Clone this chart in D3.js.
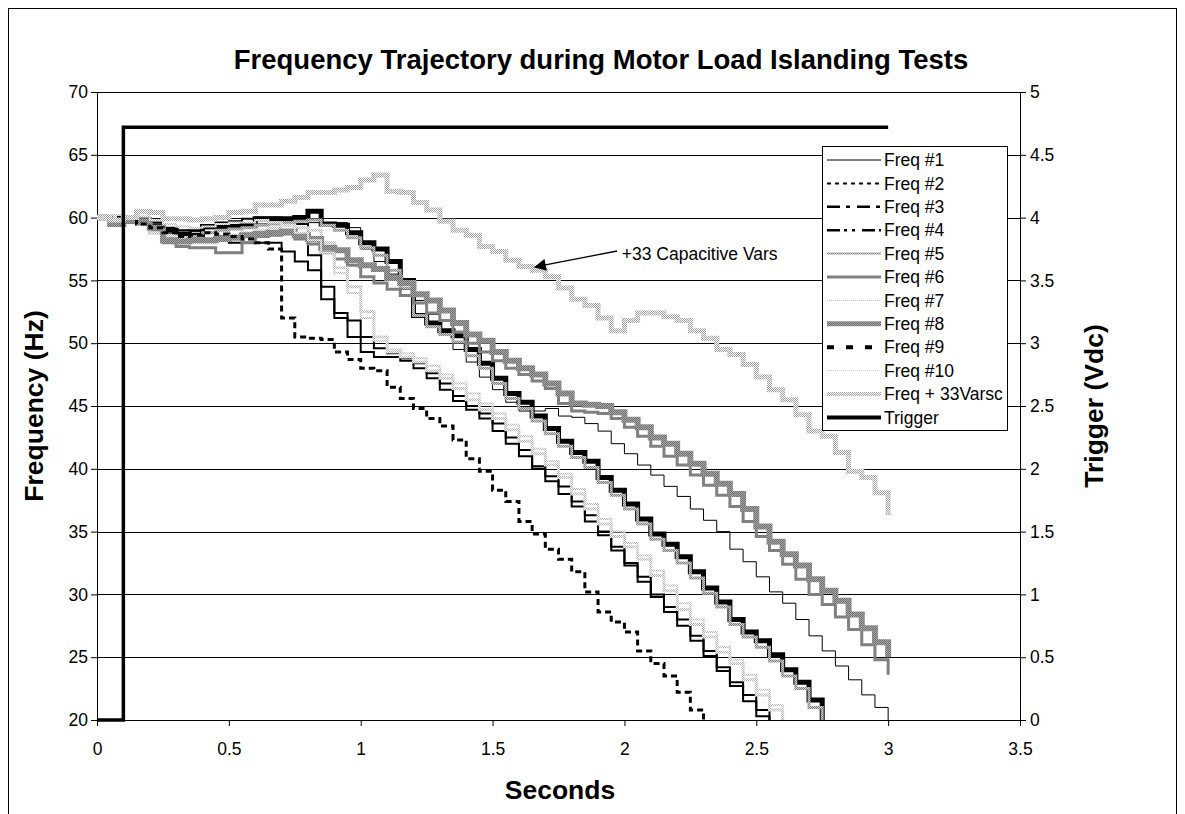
<!DOCTYPE html>
<html>
<head>
<meta charset="utf-8">
<script src="https://cdn.jsdelivr.net/npm/d3@7/dist/d3.min.js"></script>
<style>
html,body{margin:0;padding:0;background:#fff;}
svg{display:block;}
text{font-family:"Liberation Sans",Arial,Helvetica,sans-serif;fill:#000;}
</style>
</head>
<body>
<svg id="chart" width="1185" height="814"></svg>
<script>
// ---------------- DATA ----------------
const times = [0,0.05,0.1,0.15,0.2,0.25,0.3,0.35,0.4,0.45,0.5,0.55,0.6,0.65,0.7,0.75,0.8,0.85,0.9,0.95,
  1,1.05,1.1,1.15,1.2,1.25,1.3,1.35,1.4,1.45,1.5,1.55,1.6,1.65,1.7,1.75,1.8,1.85,1.9,1.95,
  2,2.05,2.1,2.15,2.2,2.25,2.3,2.35,2.4,2.45,2.5,2.55,2.6,2.65,2.7,2.75,2.8,2.85,2.9,2.95,3];

const freq1 = [60,60,60,59.8,59.5,59.2,58.8,58.9,59.1,59.0,59.2,59.4,59.5,59.6,59.6,59.7,59.6,59.6,59.6,59.2,57.5,
  56.5,55.5,54.3,53.4,52.3,50.8,49.5,48.5,47.3,46.3,45.3,44.6,44.6,44.8,44.2,44.1,43.6,43.0,42.0,41.2,
  40.3,39.5,38.6,37.8,36.8,35.9,35.0,33.6,32.6,31.4,30.2,29.3,28.0,26.7,25.5,24.3,23.2,22.0,21.0,20.0];
const freq2 = [60,60,59.9,59.6,59.6,59.2,59.0,59.0,59.2,59.6,59.7,59.9,60.0,60.0,59.8,59.5,57.0,54.5,52.0,50.5,49.3,
  48.9,48.9,48.6,48.0,47.2,46.3,45.4,44.7,44.0,43.0,42.0,41.0,40.0,39.0,38.0,37.0,35.8,34.7,33.5,32.3,
  31.0,29.8,28.6,27.5,26.3,25.1,23.9,22.7,21.5,20.3,20.0];
const freq3 = [60,60,60,59.8,59.3,59.0,58.7,58.6,59.3,59.3,59.3,59.4,59.9,59.9,59.9,60.0,60.5,59.5,59.4,58.8,58.0,
  57.5,56.5,55.0,52.2,51.6,51.0,50.6,49.5,48.4,47.2,46.0,45.3,44.2,43.2,42.2,41.3,40.6,39.3,38.3,37.2,
  36.0,34.8,34.0,33.0,31.8,30.5,29.4,28.0,27.0,26.3,25.2,24.0,23.0,21.6,20.0];
const freq4 = [60,60,60,59.7,59.0,58.7,58.3,58.4,58.8,58.5,58.0,58.0,58.0,58.0,57.3,56.5,55.8,53.5,52.4,51.8,50.5,
  49.6,49.2,48.8,48.4,47.6,46.8,45.8,45.0,44.4,43.6,42.5,41.5,40.2,39.4,38.6,37.4,36.3,35.0,33.8,32.5,
  31.4,30.0,29.0,28.0,26.7,25.5,24.2,23.0,22.0,20.8,20.0];
const freq5 = [60,59.7,59.8,59.6,59.1,58.6,58.4,58.5,58.8,59.0,59.1,59.2,59.4,59.5,59.6,59.7,59.8,59.4,59.0,58.4,57.6,
  57.0,55.8,54.4,52.2,51.3,50.7,50.1,49.0,48.0,46.8,45.6,44.8,43.8,42.8,41.8,40.9,40.1,38.9,37.9,36.8,
  35.6,34.4,33.5,32.5,31.3,30.1,29.0,27.6,26.6,25.8,24.7,23.5,22.5,21.0,20.0];
const freq6 = [60,59.4,59.6,59.5,58.8,58.0,57.7,57.6,57.6,57.2,57.2,58.0,58.5,58.6,58.7,
  58.3,57.9,57.2,56.7,56.2,55.3,54.8,54.3,53.8,53.2,52.4,51.8,50.9,50.0,49.3,48.6,48.0,47.5,47.0,46.4,45.2,44.6,44.5,44.4,44.0,43.3,
  42.6,41.8,41.0,40.3,39.5,38.7,37.9,37.0,35.8,34.6,33.5,32.4,31.2,30.0,29.2,28.2,27.2,26.0,24.8,23.6];
const freq7 = [60,60,60,59.6,58.8,58.6,58.4,58.0,58.0,58.4,58.6,58.8,59.0,59.2,59.4,59.2,59.0,58.0,56.0,54.5,52.5,
  50.5,49.3,48.9,48.5,47.8,47.2,46.4,45.5,44.7,44.0,43.1,42.2,41.2,40.3,39.3,38.0,36.8,35.6,34.6,33.8,
  32.8,31.5,30.3,28.8,27.6,26.6,25.4,24.5,23.2,22.0,20.8,20.0];
const freq8 = [60,59.5,59.8,59.7,59.2,58.2,58.1,58.2,58.2,58.3,58.4,58.6,58.7,58.8,58.9,
  58.6,58.3,57.6,57.4,56.6,56.2,55.9,55.2,54.8,53.9,53.4,52.6,51.6,50.7,50.2,49.3,48.6,48.0,47.5,46.8,46.0,45.2,45.1,45.0,44.5,43.9,
  43.3,42.5,42.0,41.2,40.4,39.6,38.8,38.0,36.8,35.4,34.2,33.2,32.3,31.2,30.3,29.5,28.4,27.3,26.2,25.0];
const freq9 = [60,60,60,59.5,59.2,58.8,58.5,58.6,58.8,58.7,58.5,58.3,58.0,57.5,52.0,50.5,50.4,50.3,49.3,48.7,48.0,
  47.8,46.5,45.6,44.8,44.0,43.4,42.3,40.8,39.8,38.3,37.4,35.8,34.8,33.6,32.8,31.8,30.2,28.6,27.8,27.0,
  25.5,24.5,23.5,22.2,20.8,20.0];
const freq10 = [60,60.2,60.0,60.1,59.8,59.5,59.3,59.2,59.3,59.5,59.6,59.6,59.8,59.6,59.4,58.8,58.2,57.2,55.6,54.0,52.0,
  50.2,49.5,49.2,48.8,48.2,47.5,46.8,46.0,45.2,44.4,43.5,42.6,41.6,40.6,39.6,38.4,37.2,36.0,35.0,34.1,
  33.1,31.9,30.7,29.3,28.0,27.0,25.8,24.8,23.6,22.4,21.2,20.0];
const freqVars = [60.0,59.8,60.0,60.5,60.4,59.9,59.9,59.8,59.9,60.0,60.4,60.5,61.0,61.0,61.3,61.6,62.0,62.0,62.2,62.4,
  63.0,63.4,62.1,62.0,61.2,60.6,59.7,59.0,58.6,57.7,57.3,56.6,56.1,55.8,55.3,54.4,53.5,53.0,52.0,51.0,
  51.8,52.4,52.4,52.1,51.8,51.0,50.4,49.5,49.1,48.3,47.3,46.3,45.5,44.3,43.0,42.6,41.3,39.8,39.3,38.1,36.3];

const trigTimes = [0, 0.1, 3.0];
const trigVolts = [0, 4.72, 4.72];

const xTicks = [0,0.5,1,1.5,2,2.5,3,3.5];
const yTicksLeft = [20,25,30,35,40,45,50,55,60,65,70];
const yTicksRight = [0,0.5,1,1.5,2,2.5,3,3.5,4,4.5,5];
const seriesNames = ["Freq #1","Freq #2","Freq #3","Freq #4","Freq #5","Freq #6","Freq #7","Freq #8","Freq #9","Freq #10","Freq + 33Varsc","Trigger"];

const titleText = "Frequency Trajectory during Motor Load Islanding Tests";
const xTitle = "Seconds", yTitleLeft = "Frequency (Hz)", yTitleRight = "Trigger (Vdc)";
const annText = "+33 Capacitive Vars";
const annTextAt = [1.99, 56.6], annFrom = [1.972, 57.34], annTip = [1.661, 56.07];

// ---------------- CHART ----------------
const svg = d3.select('#chart');
const defs = svg.append('defs');
function speckle(id, c1, c2){
  const p = defs.append('pattern').attr('id',id).attr('patternUnits','userSpaceOnUse').attr('width',2).attr('height',2);
  p.append('rect').attr('width',2).attr('height',2).attr('fill',c2);
  p.append('rect').attr('width',1).attr('height',1).attr('fill',c1);
  p.append('rect').attr('x',1).attr('y',1).attr('width',1).attr('height',1).attr('fill',c1);
}
speckle('spLight','#a0a0a0','#ffffff');
speckle('spMid','#808080','#cfcfcf');
speckle('spDark','#6e6e6e','#a8a8a8');
speckle('spPale','#b4b4b4','#ffffff');
defs.append('marker').attr('id','arrow').attr('viewBox','0 0 10 10').attr('refX',9).attr('refY',5)
  .attr('markerUnits','userSpaceOnUse').attr('markerWidth',16).attr('markerHeight',12).attr('orient','auto')
  .append('path').attr('d','M0,0L10,5L0,10z').attr('fill','#000');

const L = 97, R = 1020, T = 92, B = 720;
const x = d3.scaleLinear().domain([0,3.5]).range([L,R]);
const yL = d3.scaleLinear().domain([20,70]).range([B,T]);
const yR = d3.scaleLinear().domain([0,5]).range([B,T]);

// outer frame
svg.append('rect').attr('x',8.5).attr('y',8.5).attr('width',1168).attr('height',900)
  .attr('fill','none').attr('stroke','#000').attr('stroke-width',1);

// gridlines
svg.append('g').selectAll('line').data(yTicksLeft).join('line')
  .attr('x1',L).attr('x2',R).attr('y1',d=>Math.round(yL(d))+0.5).attr('y2',d=>Math.round(yL(d))+0.5)
  .attr('stroke','#000').attr('stroke-width',1);

const fontTick = '17.5px';
function styleAxis(g){
  g.selectAll('text').style('font-size',fontTick).style('fill','#000')
    .style('font-family','"Liberation Sans",Arial,sans-serif');
  g.selectAll('line,path').attr('stroke','#000');
  g.attr('font-size',null).attr('font-family',null);
}
svg.append('g').attr('transform',`translate(${L},0)`)
  .call(d3.axisLeft(yL).tickValues(yTicksLeft).tickFormat(d=>String(d)).tickSize(6).tickSizeOuter(0).tickPadding(3)).call(styleAxis);
svg.append('g').attr('transform',`translate(${R},0)`)
  .call(d3.axisRight(yR).tickValues(yTicksRight).tickFormat(d=>String(d)).tickSize(6).tickSizeOuter(0).tickPadding(4)).call(styleAxis);
svg.append('g').attr('transform',`translate(0,${B})`)
  .call(d3.axisBottom(x).tickValues(xTicks).tickFormat(d=>String(d)).tickSize(6).tickSizeOuter(0).tickPadding(17)).call(styleAxis);

// series
const plotStyles = [
  {stroke:'#000', w:1},
  {stroke:'#000', w:2},
  {stroke:'#000', w:5},
  {stroke:'#000', w:2},
  {stroke:'url(#spMid)', w:3},
  {stroke:'#808080', w:3},
  {stroke:'url(#spPale)', w:3},
  {stroke:'url(#spDark)', w:6},
  {stroke:'#000', w:3, dash:'6,4'},
  {stroke:'url(#spPale)', w:2},
  {stroke:'url(#spLight)', w:5},
  {stroke:'#000', w:3.5}
];
const legendStyles = [
  {stroke:'#000', w:1},
  {stroke:'#000', w:2, dash:'4,4'},
  {stroke:'#000', w:2.5, dash:'13,6,4,7'},
  {stroke:'#000', w:2.5, dash:'13,4,3,5,3,7'},
  {stroke:'url(#spMid)', w:2},
  {stroke:'#808080', w:3},
  {stroke:'#bdbdbd', w:1, dash:'1,1'},
  {stroke:'url(#spDark)', w:5},
  {stroke:'#000', w:4, dash:'7,12'},
  {stroke:'#c4c4c4', w:1, dash:'1,1'},
  {stroke:'url(#spLight)', w:4},
  {stroke:'#000', w:4}
];
const freqSeries = [freq1,freq2,freq3,freq4,freq5,freq6,freq7,freq8,freq9,freq10,freqVars];
const lineL = d3.line().x(d=>x(d[0])).y(d=>yL(d[1])).curve(d3.curveStepAfter);
const lineR = d3.line().x(d=>x(d[0])).y(d=>yR(d[1])).curve(d3.curveStepAfter);
const gS = svg.append('g').attr('fill','none').attr('stroke-linejoin','miter').attr('stroke-linecap','butt');
freqSeries.forEach((vals,i)=>{
  const st = plotStyles[i];
  gS.append('path').datum(d3.zip(times.slice(0,vals.length), vals)).attr('d',lineL)
    .attr('stroke',st.stroke).attr('stroke-width',st.w).attr('stroke-dasharray',st.dash||null);
});
gS.append('path').datum(d3.zip(trigTimes,trigVolts)).attr('d',lineR)
  .attr('stroke',plotStyles[11].stroke).attr('stroke-width',plotStyles[11].w);

// annotation
svg.append('line').attr('x1',x(annFrom[0])).attr('y1',yL(annFrom[1])).attr('x2',x(annTip[0])).attr('y2',yL(annTip[1]))
  .attr('stroke','#000').attr('stroke-width',1.3).attr('marker-end','url(#arrow)');
svg.append('text').attr('x',x(annTextAt[0])).attr('y',yL(annTextAt[1])).style('font-size','17.5px').text(annText);

// legend
const lg = svg.append('g');
lg.append('rect').attr('x',822.5).attr('y',146.5).attr('width',185).attr('height',284)
  .attr('fill','#fff').attr('stroke','#000').attr('stroke-width',1);
seriesNames.forEach((n,i)=>{
  const yy = 160 + i*23.4;
  const st = legendStyles[i];
  lg.append('line').attr('x1',827).attr('x2',881).attr('y1',yy).attr('y2',yy)
    .attr('stroke',st.stroke).attr('stroke-width',st.w).attr('stroke-dasharray',st.dash||null);
  lg.append('text').attr('x',884).attr('y',yy).attr('dy','0.35em').style('font-size','17.5px').text(n);
});

// titles
svg.append('text').attr('x',601).attr('y',69).attr('text-anchor','middle')
  .style('font-size','27.5px').style('font-weight','bold').text(titleText);
svg.append('text').attr('x',560).attr('y',799).attr('text-anchor','middle')
  .style('font-size','26.5px').style('font-weight','bold').text(xTitle);
svg.append('text').attr('transform',`translate(43,${(T+B)/2}) rotate(-90)`).attr('text-anchor','middle')
  .style('font-size','26.5px').style('font-weight','bold').text(yTitleLeft);
svg.append('text').attr('transform',`translate(1103,${(T+B)/2}) rotate(-90)`).attr('text-anchor','middle')
  .style('font-size','26.5px').style('font-weight','bold').text(yTitleRight);
</script>
</body>
</html>
